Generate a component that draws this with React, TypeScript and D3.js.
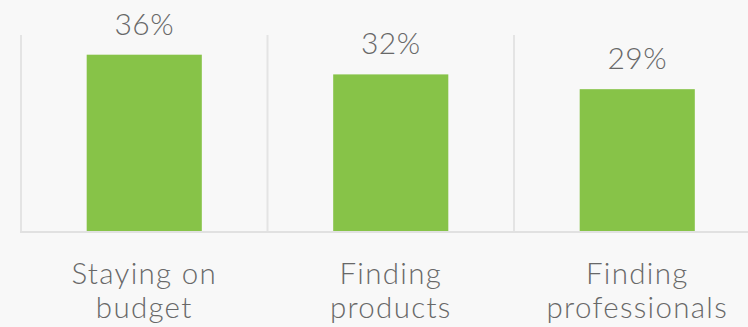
import React from "react";
import * as d3 from "d3";

const categories = ["Staying on budget", "Finding products", "Finding professionals"];
const categoryLines = [["Staying on", "budget"], ["Finding", "products"], ["Finding", "professionals"]];
const values = [36, 32, 29];
const valueLabels = ["36%", "32%", "29%"];

const W = 748;
const H = 327;

export default function App() {
  const x = d3
    .scaleBand<string>()
    .domain(categories)
    .range([21, 760.5])
    .paddingInner(0.533)
    .paddingOuter(0.2665);
  const y = d3.scaleLinear().domain([0, 40]).range([232, 35]);
  const step = x.step();
  const r0 = x.range()[0];
  const font = "Lato, 'Open Sans', sans-serif";
  const textColor = "#686868";

  return (
    <svg
      width={W}
      height={H}
      style={{ position: "absolute", left: 0, top: 0, background: "#f8f8f8" }}
    >
      <rect x={0} y={0} width={W} height={H} fill="#f8f8f8" />
      {categories.map((c, i) => (
        <line
          key={"g" + i}
          x1={r0 + i * step}
          x2={r0 + i * step}
          y1={y(40)}
          y2={y(0)}
          stroke="#e4e4e4"
          strokeWidth={2}
        />
      ))}
      <line x1={r0 - 1} x2={W} y1={y(0)} y2={y(0)} stroke="#e1e1e1" strokeWidth={2} />
      {categories.map((c, i) => (
        <rect
          key={"b" + i}
          x={x(c)}
          y={y(values[i])}
          width={x.bandwidth()}
          height={y(0) - y(values[i]) - 1}
          fill="#87c348"
        />
      ))}
      {categories.map((c, i) => (
        <text
          key={"v" + i}
          x={(x(c) as number) + x.bandwidth() / 2}
          y={y(values[i]) - 20}
          textAnchor="middle"
          fontFamily={font}
          fontWeight={300}
          fontSize={30}
          letterSpacing={0.5}
          fill={textColor}
        >
          {valueLabels[i]}
        </text>
      ))}
      {categories.map((c, i) => (
        <text
          key={"c" + i}
          textAnchor="middle"
          fontFamily={font}
          fontWeight={300}
          fontSize={29.5}
          letterSpacing={1.3}
          fill={textColor}
        >
          {categoryLines[i].map((ln, j) => (
            <tspan key={j} x={(x(c) as number) + x.bandwidth() / 2} y={284 + j * 34}>
              {ln}
            </tspan>
          ))}
        </text>
      ))}
    </svg>
  );
}
